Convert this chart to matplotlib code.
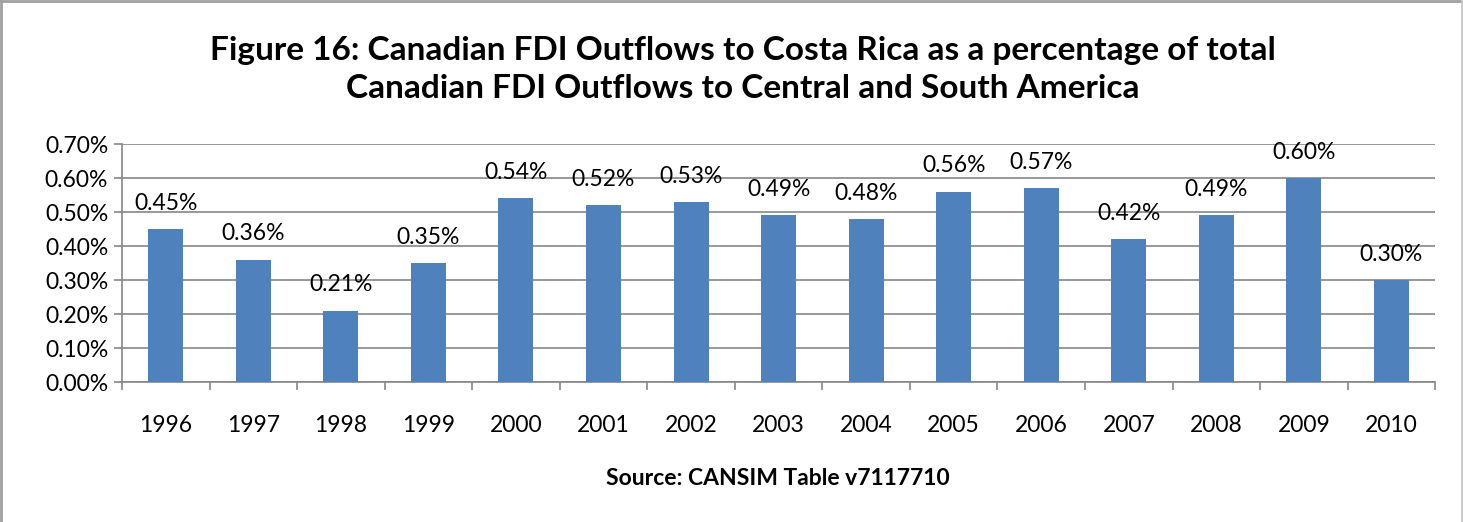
import matplotlib.pyplot as plt
from matplotlib.lines import Line2D
from matplotlib.ticker import FuncFormatter, MultipleLocator

plt.rcParams['font.family'] = ['Lato', 'DejaVu Sans']

# Data (percent)
years = ['1996', '1997', '1998', '1999', '2000', '2001', '2002', '2003',
         '2004', '2005', '2006', '2007', '2008', '2009', '2010']
shares = [0.45, 0.36, 0.21, 0.35, 0.54, 0.52, 0.53, 0.49,
          0.48, 0.56, 0.57, 0.42, 0.49, 0.60, 0.30]

title = ('Figure 16: Canadian FDI Outflows to Costa Rica as a percentage of total\n'
         'Canadian FDI Outflows to Central and South America')
source = 'Source: CANSIM Table v7117710'

bar_color = '#4F81BD'
grid_color = '#868686'

fig = plt.figure(figsize=(14.63, 5.22), dpi=100)
ax = fig.add_axes([0.0834, 0.268, 0.8976, 0.456])

x = range(len(years))
bars = ax.bar(x, shares, width=0.4, color=bar_color, zorder=3)

# value labels above bars
for b, v in zip(bars, shares):
    ax.annotate(f'{v:.2f}%', (b.get_x() + b.get_width() / 2, b.get_height()),
                xytext=(0, 11), textcoords='offset points',
                ha='center', va='bottom', fontsize=16.5)

ax.set_xlim(-0.5, len(years) - 0.5)
ax.set_ylim(0, 0.70)
ax.yaxis.set_major_locator(MultipleLocator(0.10))
ax.yaxis.set_major_formatter(FuncFormatter(lambda v, p: f'{v:.2f}%'))
ax.grid(axis='y', color=grid_color, linewidth=1.2, zorder=0)

ax.set_xticks(list(x))
ax.set_xticklabels(years)
ax.set_xticks([i - 0.5 for i in range(len(years) + 1)], minor=True)
ax.tick_params(axis='x', which='major', length=0, pad=24, labelsize=16.5)
ax.tick_params(axis='x', which='minor', length=6, color=grid_color, width=1.2)
ax.tick_params(axis='y', length=6, color=grid_color, width=1.2, labelsize=16.5, pad=4)

for side in ['top', 'right']:
    ax.spines[side].set_visible(False)
for side in ['left', 'bottom']:
    ax.spines[side].set_color(grid_color)
    ax.spines[side].set_linewidth(1.2)

fig.text(0.508, 0.867, title, ha='center', va='center', fontsize=24,
         fontweight='bold', linespacing=1.4)
fig.text(0.532, 0.084, source, ha='center', va='center', fontsize=16.5,
         fontweight='bold')

# outer frame (top, left, right)
frame = dict(color='#A0A0A0', linewidth=2, transform=fig.transFigure)
fig.add_artist(Line2D([0.001, 0.001], [0, 1], **frame))
fig.add_artist(Line2D([0, 1], [0.999, 0.999], **frame))
fig.add_artist(Line2D([0.9993, 0.9993], [0, 1], color='#C8C8C8', linewidth=2,
                      transform=fig.transFigure))

fig.savefig('out.png', dpi=100)
